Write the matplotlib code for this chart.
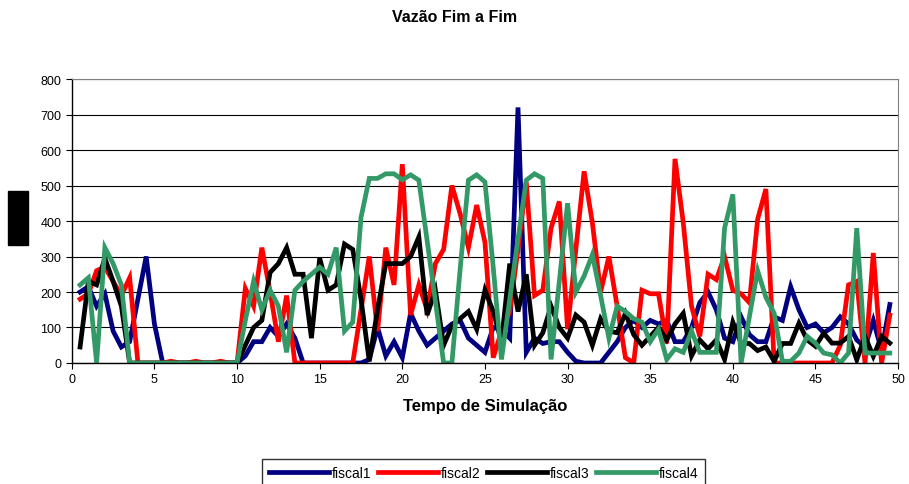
import matplotlib
matplotlib.use("Agg")
import matplotlib.pyplot as plt
from matplotlib.patches import Rectangle

plt.rcParams['font.family'] = ['Liberation Sans', 'DejaVu Sans']

# tempo de simulacao: passos de 0.5
tempo = [i * 0.5 for i in range(1, 100)]

fiscal1 = [200, 215, 160, 195, 90, 45, 60, 180, 300, 110, 0,
           0, 0, 0, 0, 0, 0, 0, 0, 0,
           20, 60, 60, 100, 75, 110, 70,
           0,
           0, 0, 0, 0, 0, 0, 0,
           10, 100, 20, 60, 15, 140, 90, 50, 70, 90, 110, 120, 70, 50, 30, 100,
           95, 70, 720, 30, 70, 55, 60, 60, 30, 5, 0, 0, 0, 30, 60, 100,
           120, 100, 120, 110, 120, 60, 60, 100, 170, 200, 150, 70, 60, 130, 80, 60,
           60, 130, 120, 215, 150, 100, 110, 85, 100, 130, 110, 65, 45, 120, 35, 165]

fiscal2 = [180, 195, 260, 270, 230, 190, 240, 0, 0, 0,
           0, 5, 0, 0, 5, 0, 0, 5, 0, 0,
           210, 160, 325, 200, 60, 190, 0,
           0, 0, 0, 0, 0, 0, 0,
           150, 300, 90, 325, 220, 560, 135, 220, 150, 280, 320, 500, 420, 325, 445, 340,
           15, 90, 145, 320, 510, 190, 205, 380, 455, 95, 320, 540, 395, 200, 300, 160,
           15, 0, 205, 195, 195, 55, 575, 395, 160, 75, 250, 235, 300, 205, 195, 170,
           405, 490, 0,
           0, 0, 0, 0, 0, 0, 0,
           50, 220, 230, 0, 310, 0, 135]

fiscal3 = [45, 230, 220, 295, 230, 160, 0,
           0, 0, 0, 0, 0, 0, 0, 0, 0, 0, 0, 0, 0,
           50, 100, 120, 255, 280, 325, 250, 250, 70, 295, 205, 220, 335, 320, 180, 5,
           150, 280, 280, 280, 300, 355, 135, 205, 50, 105, 125, 145, 95, 205, 145, 60,
           280, 145, 250, 50, 85, 160, 100, 70, 135, 115, 50, 125, 90, 85, 140, 80,
           50, 75, 100, 65, 110, 140, 20, 65, 40, 65, 10, 115, 55, 55, 35, 45,
           5, 55, 55, 112, 65, 47, 84, 56, 56, 75, 9, 75, 19, 75, 56]

fiscal4 = [220, 240, 0, 325, 280, 220, 0,
           0, 0, 0, 0, 0, 0, 0, 0, 0, 0, 0, 0, 0,
           120, 230, 150, 205, 160, 30, 205, 230, 250, 270, 250, 325, 90, 115, 410, 520,
           520, 533, 533, 516, 530, 515, 345, 175, 0, 0, 265, 515, 530, 510, 270, 10,
           180, 350, 515, 533, 520, 10, 230, 450, 200, 245, 305, 190, 70, 160, 145, 125,
           115, 60, 95, 10, 40, 30, 90, 30, 30, 30, 380, 475, 0, 130, 260, 185,
           140, 5, 5, 28, 75, 56, 28, 23, 0, 28, 380, 28, 28, 28, 28]

series = [("fiscal1", fiscal1, "#000080"),
          ("fiscal2", fiscal2, "#FF0000"),
          ("fiscal3", fiscal3, "#000000"),
          ("fiscal4", fiscal4, "#339966")]

fig = plt.figure(figsize=(9.09, 4.85), dpi=100)
ax = fig.add_axes([0.079, 0.2495, 0.909, 0.5855])

for nome, vals, cor in series:
    ax.plot(tempo, vals, color=cor, linewidth=3.4, label=nome, solid_joinstyle='miter')

ax.set_xlim(0, 50)
ax.set_ylim(0, 800)
ax.set_xticks(range(0, 51, 5))
ax.set_yticks(range(0, 801, 100))
ax.yaxis.grid(True, color="black", linewidth=0.8)
ax.set_axisbelow(True)
ax.tick_params(labelsize=9, length=4, width=0.8, direction='out')
for s in ['top', 'right']:
    ax.spines[s].set_color('#808080')
ax.spines['left'].set_linewidth(1.0)
ax.spines['bottom'].set_linewidth(1.0)

fig.text(0.5, 1 - 18 / 485, "Vazão Fim a Fim", ha='center', va='center',
         fontsize=11.5, fontweight='bold')
ax.set_xlabel("Tempo de Simulação", fontsize=12, fontweight='bold', labelpad=9)

# y-label tapado
fig.patches.append(Rectangle((8 / 909, 1 - 246 / 485), 20 / 909, 54 / 485,
                             transform=fig.transFigure, color='black', zorder=5))

leg = fig.legend(loc='upper center', bbox_to_anchor=(0.532, 1 - 453 / 485), ncol=4,
                 fontsize=10, frameon=True, fancybox=False, edgecolor='black',
                 handlelength=4.3, handletextpad=0.2, columnspacing=0.5,
                 borderpad=0.5)
leg.get_frame().set_linewidth(1.0)

fig.savefig("out.png", dpi=100)
